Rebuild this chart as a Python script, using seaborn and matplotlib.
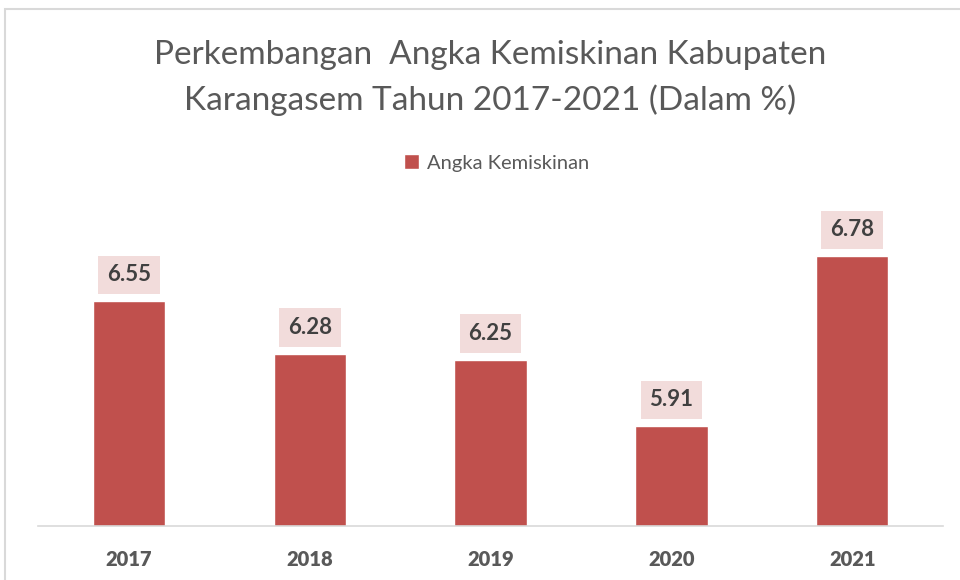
import pandas as pd
import seaborn as sns
import matplotlib.pyplot as plt
from matplotlib.patches import Rectangle, Patch

# Data
years = ["2017", "2018", "2019", "2020", "2021"]
values = [6.55, 6.28, 6.25, 5.91, 6.78]

df = pd.DataFrame({"tahun": years, "angka": values})

bar_color = "#C0504D"
box_color = "#F2DCDB"

sns.set_theme(style="white")
plt.rcParams["font.family"] = ["Lato", "DejaVu Sans"]

fig = plt.figure(figsize=(9.6, 5.8), dpi=100)
ax = fig.add_axes([0.040, 0.0931, 0.942, 0.539])

sns.barplot(data=df, x="tahun", y="angka", color=bar_color, width=0.4,
            saturation=1, ax=ax)

ax.set_xlim(-0.5, 4.5)
ax.set_ylim(5.4, 7.0)
ax.set_xlabel("")
ax.set_ylabel("")
ax.set_yticks([])
for s in ["top", "right", "left"]:
    ax.spines[s].set_visible(False)
ax.spines["bottom"].set_color("#D9D9D9")
ax.spines["bottom"].set_linewidth(1.2)
ax.tick_params(axis="x", length=0, pad=17, labelsize=14.5, labelcolor="#595959")
for lab in ax.get_xticklabels():
    lab.set_fontweight("heavy")

# Label nilai di atas batang
for i, v in enumerate(values):
    ax.annotate(f"{v:.2f}", xy=(i, v), xytext=(0, 19), textcoords="offset points",
                ha="center", va="center", fontsize=16, fontweight="bold",
                color="#404040",
                bbox=dict(boxstyle="square,pad=0.4", facecolor=box_color,
                          edgecolor="none"))

# Judul dan legenda
fig.text(0.511, 0.905, "Perkembangan  Angka Kemiskinan Kabupaten",
         ha="center", va="center", fontsize=24, color="#595959")
fig.text(0.511, 0.827, "Karangasem Tahun 2017-2021 (Dalam %)",
         ha="center", va="center", fontsize=24, color="#595959")

fig.legend(handles=[Patch(facecolor=bar_color, label="Angka Kemiskinan")],
           loc="center", bbox_to_anchor=(0.517, 0.719), frameon=False,
           fontsize=14.5, labelcolor="#595959", handlelength=0.75,
           handleheight=0.75, handletextpad=0.4)

# Bingkai grafik
fig.patches.append(Rectangle((5 / 960, -0.1), 1.2, 1 - 9 / 580 + 0.1,
                             transform=fig.transFigure, fill=False,
                             edgecolor="#D9D9D9", linewidth=1.5))

fig.savefig("out.png", dpi=100)
